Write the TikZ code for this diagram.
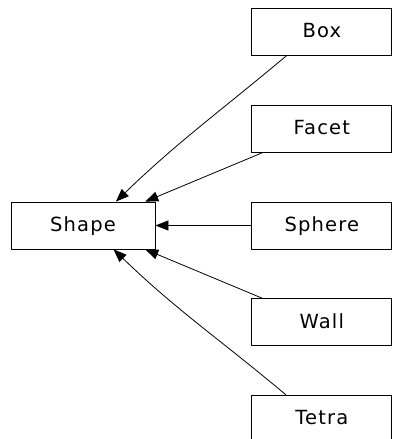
\documentclass[tikz,border=0pt]{standalone}
\usepackage{fontspec}
\setmainfont{DejaVu Sans}[LetterSpace=6]
\usepackage{tikz}
\usetikzlibrary{arrows.meta,positioning}

\begin{document}
\begin{tikzpicture}[x=1pt, y=-1pt, >={Triangle[length=13pt,width=10pt]},
  node distance=49pt and 96pt,
  cls/.style={rectangle, draw, line width=0.8pt, minimum width=140pt,
              minimum height=47pt, inner sep=0pt, text depth=3pt,
              font=\fontsize{19.5}{23}\selectfont},
  inh/.style={->, line width=0.8pt}]
  \useasboundingbox (0,0) rectangle (392,439);

  % Base class
  \node[cls, minimum width=144pt] (Shape) at (83,225.5) {Shape};

  % Derived classes
  \node[cls, right=96pt of Shape] (Sphere) {Sphere};
  \node[cls, above=49pt of Sphere] (Facet) {Facet};
  \node[cls, above=49pt of Facet] (Box) {Box};
  \node[cls, below=49pt of Sphere] (Wall) {Wall};
  \node[cls, below=49pt of Wall] (Tetra) {Tetra};

  % Inheritance
  \draw[inh] (Box.214) to[out=220, in=44] (Shape.36);
  \draw[inh] (Facet.202) -- (Shape.21);
  \draw[inh] (Sphere.west) -- (Shape.east);
  \draw[inh] (Wall.158) -- (Shape.-21);
  \draw[inh] (Tetra.146) to[out=140, in=-44] (Shape.-38);
\end{tikzpicture}
\end{document}
